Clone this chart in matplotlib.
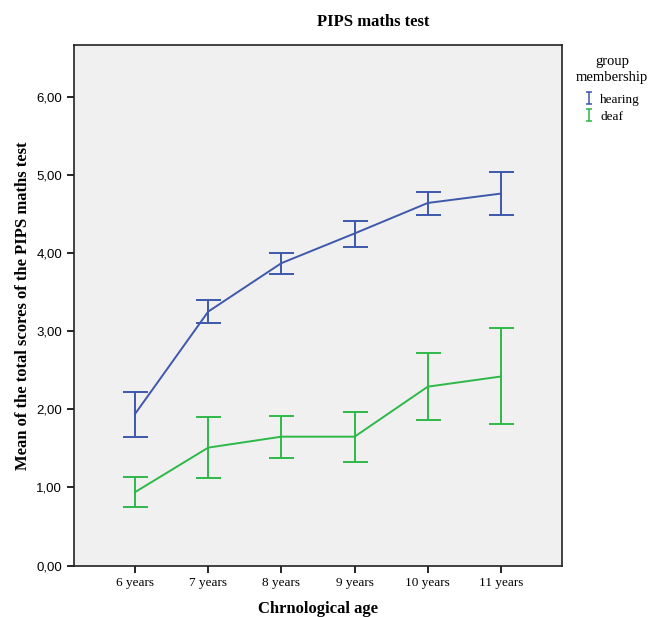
import numpy as np
import matplotlib.pyplot as plt
from matplotlib.lines import Line2D
from matplotlib.path import Path

# values
ages = ["6 years", "7 years", "8 years", "9 years", "10 years", "11 years"]
hearing_mean = [1.94, 3.25, 3.87, 4.25, 4.64, 4.76]
hearing_low = [1.65, 3.10, 3.73, 4.08, 4.49, 4.48]
hearing_high = [2.22, 3.40, 4.00, 4.41, 4.78, 5.04]
deaf_mean = [0.94, 1.51, 1.65, 1.65, 2.29, 2.42]
deaf_low = [0.75, 1.12, 1.38, 1.32, 1.86, 1.81]
deaf_high = [1.14, 1.90, 1.92, 1.97, 2.72, 3.04]
yticks = [0, 1, 2, 3, 4, 5, 6]

blue = "#3E58AC"
green = "#2EB848"
serif = ["Liberation Serif", "DejaVu Serif"]
sans = ["Liberation Sans", "DejaVu Sans"]

fig = plt.figure(figsize=(6.48, 6.17), dpi=100)
ax = fig.add_axes([0.1142, 0.0832, 0.7531, 0.8438])
ax.set_facecolor("#F0F0F0")

x = np.arange(len(ages))
for m, lo, hi, c in [(hearing_mean, hearing_low, hearing_high, blue),
                     (deaf_mean, deaf_low, deaf_high, green)]:
    m = np.array(m)
    err = [m - np.array(lo), np.array(hi) - m]
    ax.errorbar(x, m, yerr=err, color=c, lw=1.4, elinewidth=1.4,
                capsize=9, capthick=1.4)

ax.set_xlim(-0.833, 5.833)
ax.set_ylim(0, 6.66)
ax.set_xticks(x)
ax.set_xticklabels(ages, fontfamily=serif, fontsize=9.5)
ax.set_yticks(yticks)
ax.set_yticklabels(["%d,00" % v for v in yticks], fontfamily=sans, fontsize=9.5)
ax.tick_params(direction="out", length=5, width=1.2, color="black")
for s in ax.spines.values():
    s.set_linewidth(1.2)
    s.set_color("#222222")

ax.set_xlabel("Chrnological age", fontfamily=serif, fontweight="bold",
              fontsize=12, labelpad=8)
ax.set_ylabel("Mean of the total scores of the PIPS maths test",
              fontfamily=serif, fontweight="bold", fontsize=12, labelpad=4)
fig.text(373 / 648, 1 - 22 / 617, "PIPS maths test", fontfamily=serif,
         fontweight="bold", fontsize=12, ha="center", va="center")

# legend with I-shaped markers
ibar = Path([(-0.5, 1), (0.5, 1), (0, 1), (0, -1), (-0.5, -1), (0.5, -1)],
            [Path.MOVETO, Path.LINETO, Path.MOVETO, Path.LINETO,
             Path.MOVETO, Path.LINETO])
handles = [Line2D([], [], color=c, marker=ibar, markersize=8,
                  linestyle="none", markeredgewidth=1.1,
                  markerfacecolor="none") for c in (blue, green)]
leg = fig.legend(handles, ["hearing", "deaf"], title="group\nmembership",
                 loc="upper center", bbox_to_anchor=(612 / 648, 1 - 55 / 617),
                 frameon=False, prop={"family": serif, "size": 9.5},
                 handlelength=0.8, handletextpad=0.4, labelspacing=0.35,
                 borderpad=0, borderaxespad=0)
leg.get_title().set_fontfamily(serif)
leg.get_title().set_fontsize(10.5)
leg.get_title().set_multialignment("center")
leg.get_title().set_linespacing(1.3)
leg._legend_box.sep = 7

fig.savefig("out.png", dpi=100)
